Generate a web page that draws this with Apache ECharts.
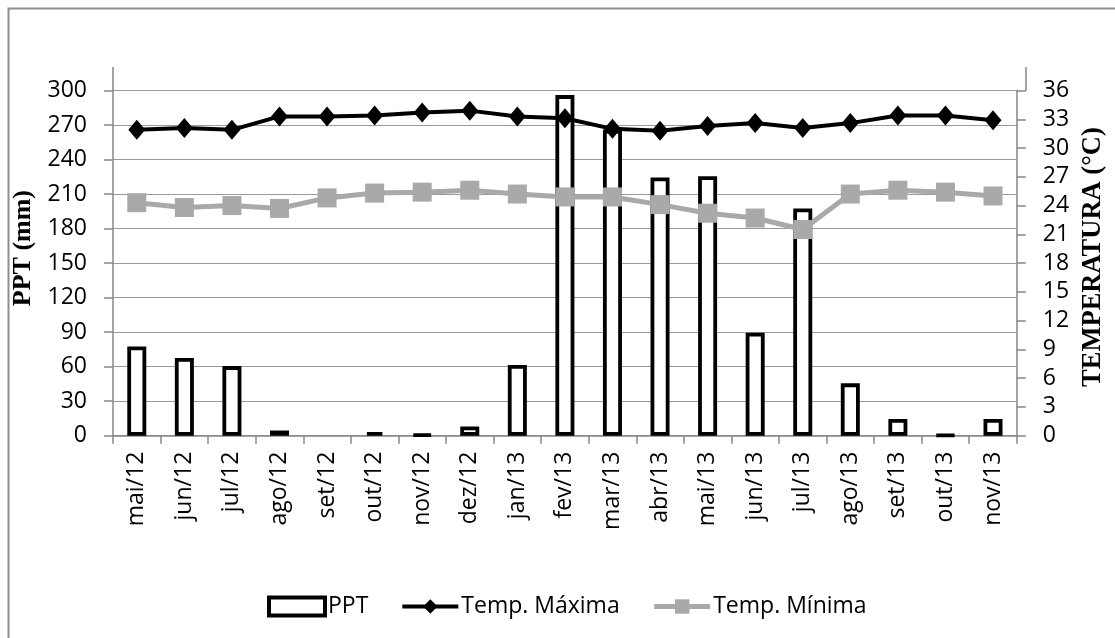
<!DOCTYPE html>
<html>
<head>
<meta charset="utf-8">
<script src="https://cdn.jsdelivr.net/npm/echarts@6/dist/echarts.min.js"></script>
<style>
html,body{margin:0;padding:0;background:#fff;}
#chart{width:1115px;height:638px;}
</style>
</head>
<body>
<div id="chart"></div>
<script>
var categories = ['mai/12','jun/12','jul/12','ago/12','set/12','out/12','nov/12','dez/12','jan/13','fev/13','mar/13','abr/13','mai/13','jun/13','jul/13','ago/13','set/13','out/13','nov/13'];
var ppt = [77.5, 67.5, 60.5, 4.5, 0, 3, 1, 8, 61.5, 296, 266, 224.5, 225.5, 89.5, 197.5, 45.5, 14.5, 0.5, 14.5];
var tempMax = [31.9, 32.1, 31.9, 33.3, 33.3, 33.4, 33.7, 33.9, 33.3, 33.1, 32.0, 31.8, 32.3, 32.6, 32.1, 32.6, 33.4, 33.4, 32.9];
var tempMin = [24.3, 23.8, 24.0, 23.7, 24.8, 25.3, 25.4, 25.6, 25.2, 24.9, 24.9, 24.1, 23.2, 22.7, 21.5, 25.2, 25.6, 25.4, 25.0];
var leftTicks = {min: 0, max: 300, interval: 30};
var rightTicks = {min: 0, max: 36, interval: 3};

var axisGray = '#868686';
var gridGray = '#9a9a9a';
var minGray = '#a9a9a9';
var sans = 'Open Sans';
var serif = 'Liberation Serif';

// a zero-rainfall month draws no bar in the reference
var pptBars = ppt.map(function (v) { return v === 0 ? '-' : v; });

var chart = echarts.init(document.getElementById('chart'), null, {renderer: 'canvas'});
chart.setOption({
  backgroundColor: '#ffffff',
  animation: false,
  grid: {left: 113, right: 89, top: 90.5, bottom: 202.3, containLabel: false},
  graphic: [
    {type: 'rect', shape: {x: 8.5, y: 8.5, width: 1300, height: 800}, style: {fill: 'none', stroke: '#8f8f8f', lineWidth: 2}, silent: true},
    {type: 'line', shape: {x1: 113, y1: 67, x2: 113, y2: 91}, style: {stroke: axisGray, lineWidth: 1.5}, silent: true},
    {type: 'line', shape: {x1: 1026, y1: 67, x2: 1026, y2: 91}, style: {stroke: axisGray, lineWidth: 1.5}, silent: true}
  ],
  legend: {
    left: 262, top: 590,
    itemWidth: 56, itemHeight: 18, itemGap: 32,
    textStyle: {fontFamily: sans, fontSize: 23, color: '#000', padding: [0, 0, 0, -2]},
    data: [
      {name: 'PPT', icon: 'rect', itemStyle: {color: '#fff', borderColor: '#000', borderWidth: 4}},
      {name: 'Temp. Máxima', itemStyle: {color: '#000', borderWidth: 0}, lineStyle: {color: '#000', width: 4}},
      {name: 'Temp. Mínima', itemStyle: {color: minGray, borderWidth: 0}, lineStyle: {color: minGray, width: 5}}
    ]
  },
  xAxis: {
    type: 'category',
    data: categories,
    boundaryGap: true,
    axisLine: {show: true, lineStyle: {color: axisGray, width: 1.5}},
    axisTick: {show: true, length: 8, alignWithLabel: false, lineStyle: {color: axisGray, width: 1.5}},
    axisLabel: {rotate: 90, margin: 16, fontFamily: sans, fontSize: 23, color: '#000', interval: 0},
    splitLine: {show: false}
  },
  yAxis: [
    {
      type: 'value', position: 'left',
      min: leftTicks.min, max: leftTicks.max, interval: leftTicks.interval,
      name: 'PPT (mm)', nameLocation: 'middle', nameRotate: 90, nameGap: 57,
      nameTextStyle: {fontFamily: serif, fontWeight: 'bold', fontSize: 26, color: '#000', padding: [0, 0, 0, 30]},
      axisLine: {show: true, lineStyle: {color: axisGray, width: 1.5}},
      axisTick: {show: true, length: 9, lineStyle: {color: axisGray, width: 1.5}},
      axisLabel: {margin: 26, fontFamily: sans, fontSize: 23, color: '#000'},
      splitLine: {show: true, lineStyle: {color: gridGray, width: 1.2}}
    },
    {
      type: 'value', position: 'right',
      min: rightTicks.min, max: rightTicks.max, interval: rightTicks.interval,
      name: 'TEMPERATURA (°C)', nameLocation: 'middle', nameRotate: 90, nameGap: 49,
      nameTextStyle: {fontFamily: serif, fontWeight: 'bold', fontSize: 26.5, color: '#000', padding: [0, 0, 0, 12]},
      axisLine: {show: true, lineStyle: {color: axisGray, width: 1.5}},
      axisTick: {show: true, length: 9, lineStyle: {color: axisGray, width: 1.5}},
      axisLabel: {margin: 26, fontFamily: sans, fontSize: 23, color: '#000'},
      splitLine: {show: false}
    }
  ],
  series: [
    {
      name: 'PPT', type: 'bar', yAxisIndex: 0, data: pptBars,
      barWidth: 19,
      itemStyle: {color: '#ffffff', borderColor: '#000000', borderWidth: 3.8},
      z: 2
    },
    {
      name: 'Temp. Máxima', type: 'line', yAxisIndex: 1, data: tempMax,
      symbol: 'diamond', symbolSize: [17, 20],
      lineStyle: {color: '#000', width: 4},
      itemStyle: {color: '#000', borderWidth: 0},
      z: 4
    },
    {
      name: 'Temp. Mínima', type: 'line', yAxisIndex: 1, data: tempMin,
      symbol: 'rect', symbolSize: 19,
      lineStyle: {color: minGray, width: 5},
      itemStyle: {color: minGray, borderWidth: 0},
      z: 3
    }
  ]
});
</script>
</body>
</html>
